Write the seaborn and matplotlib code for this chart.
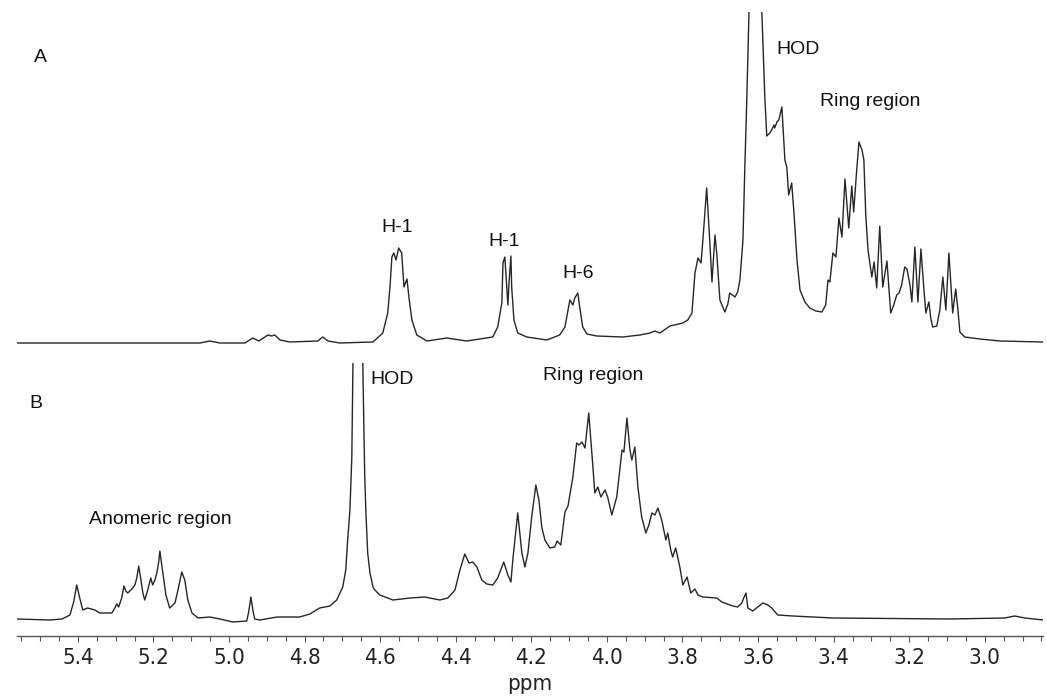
import numpy as np
import pandas as pd
import matplotlib
matplotlib.use("Agg")
import matplotlib.pyplot as plt
from matplotlib.ticker import MultipleLocator
import seaborn as sns

# ---------------- data ----------------
# Spectrum A (chemical shift in ppm, intensity in arbitrary units)
a_ppm = [5.561, 5.077, 5.051, 5.024, 4.958, 4.937, 4.921, 4.905, 4.897, 4.887, 4.879, 4.865,
         4.839, 4.765, 4.752, 4.738, 4.707, 4.619, 4.593, 4.580, 4.574, 4.569, 4.564, 4.558,
         4.551, 4.543, 4.537, 4.532, 4.529, 4.524, 4.516, 4.503, 4.476, 4.424, 4.371, 4.302,
         4.289, 4.278, 4.275, 4.270, 4.265, 4.262, 4.259, 4.254, 4.252, 4.246, 4.236, 4.212,
         4.159, 4.125, 4.111, 4.103, 4.098, 4.090, 4.085, 4.077, 4.072, 4.064, 4.053, 4.027,
         3.958, 3.913, 3.886, 3.873, 3.860, 3.833, 3.799, 3.786, 3.775, 3.767, 3.759, 3.751,
         3.746, 3.736, 3.728, 3.722, 3.714, 3.709, 3.701, 3.688, 3.680, 3.675, 3.661, 3.654,
         3.648, 3.640, 3.635, 3.630, 3.624, 3.609, 3.590, 3.582, 3.577, 3.569, 3.564, 3.558,
         3.556, 3.550, 3.545, 3.537, 3.529, 3.524, 3.519, 3.511, 3.505, 3.497, 3.489, 3.476,
         3.463, 3.447, 3.431, 3.421, 3.415, 3.410, 3.402, 3.394, 3.386, 3.378, 3.370, 3.360,
         3.352, 3.347, 3.339, 3.333, 3.325, 3.320, 3.315, 3.309, 3.299, 3.293, 3.286, 3.278,
         3.270, 3.259, 3.249, 3.241, 3.233, 3.227, 3.220, 3.212, 3.206, 3.198, 3.193, 3.185,
         3.177, 3.169, 3.161, 3.156, 3.148, 3.143, 3.138, 3.127, 3.119, 3.111, 3.103, 3.095,
         3.087, 3.085, 3.077, 3.071, 3.066, 3.053, 3.013, 2.960, 2.846]
a_int = [0, 0, 2, 0, 0, 5, 2, 6, 8, 7, 8, 3,
         1, 2, 6, 2, 0, 1, 10, 30, 56, 86, 90, 83,
         95, 90, 56, 61, 64, 46, 23, 8, 2, 5, 2, 6,
         16, 40, 80, 86, 56, 38, 60, 87, 56, 23, 10, 6,
         3, 8, 16, 33, 43, 38, 45, 50, 36, 16, 9, 7,
         6, 8, 10, 12, 10, 17, 20, 23, 30, 70, 85, 80,
         103, 155, 103, 61, 108, 88, 43, 31, 39, 50, 46, 51,
         63, 103, 176, 241, 331, 1500, 331, 245, 207, 210, 213, 218,
         215, 221, 223, 236, 183, 176, 148, 160, 130, 83, 53, 41,
         35, 32, 31, 38, 63, 61, 90, 86, 125, 106, 164, 115,
         157, 131, 173, 201, 193, 183, 128, 93, 66, 81, 55, 117,
         56, 82, 30, 38, 48, 50, 58, 76, 74, 58, 41, 96,
         41, 94, 53, 30, 41, 25, 16, 17, 33, 66, 33, 90,
         43, 30, 54, 33, 11, 6, 4, 2, 1]

# Spectrum B
b_ppm = [5.561, 5.474, 5.442, 5.421, 5.411, 5.403, 5.395, 5.387, 5.374, 5.355, 5.342, 5.310,
         5.302, 5.297, 5.292, 5.284, 5.278, 5.273, 5.268, 5.257, 5.249, 5.244, 5.239, 5.233,
         5.228, 5.223, 5.215, 5.207, 5.202, 5.196, 5.191, 5.186, 5.183, 5.178, 5.175, 5.167,
         5.157, 5.143, 5.135, 5.125, 5.117, 5.109, 5.098, 5.082, 5.051, 5.024, 4.990, 4.953,
         4.948, 4.942, 4.937, 4.932, 4.918, 4.873, 4.813, 4.786, 4.760, 4.733, 4.715, 4.699,
         4.691, 4.686, 4.680, 4.675, 4.672, 4.659, 4.646, 4.641, 4.638, 4.633, 4.627, 4.619,
         4.614, 4.601, 4.566, 4.521, 4.482, 4.442, 4.421, 4.402, 4.389, 4.376, 4.365, 4.355,
         4.344, 4.331, 4.318, 4.302, 4.289, 4.273, 4.262, 4.254, 4.249, 4.236, 4.225, 4.217,
         4.209, 4.199, 4.188, 4.180, 4.172, 4.164, 4.151, 4.138, 4.132, 4.122, 4.111, 4.103,
         4.090, 4.080, 4.074, 4.066, 4.058, 4.048, 4.037, 4.032, 4.024, 4.016, 4.005, 3.998,
         3.987, 3.974, 3.960, 3.955, 3.947, 3.939, 3.934, 3.926, 3.918, 3.908, 3.897, 3.889,
         3.881, 3.873, 3.865, 3.855, 3.844, 3.839, 3.831, 3.826, 3.818, 3.807, 3.799, 3.788,
         3.778, 3.767, 3.759, 3.746, 3.709, 3.696, 3.667, 3.654, 3.643, 3.638, 3.632, 3.627,
         3.614, 3.601, 3.587, 3.574, 3.564, 3.548, 3.508, 3.402, 3.093, 2.947, 2.921, 2.894,
         2.846]
b_int = [2, 1, 2, 6, 19, 36, 23, 11, 13, 11, 8, 8,
         13, 17, 14, 23, 35, 30, 28, 32, 36, 43, 55, 41,
         28, 21, 31, 43, 36, 41, 48, 59, 70, 56, 48, 26,
         13, 18, 31, 49, 41, 21, 8, 3, 4, 2, -1, 0,
         9, 24, 11, 2, 1, 4, 4, 7, 13, 15, 21, 34,
         51, 81, 111, 164, 258, 1500, 258, 148, 111, 68, 48, 34,
         31, 26, 21, 23, 24, 21, 23, 31, 51, 67, 58, 59,
         54, 41, 37, 36, 43, 59, 46, 39, 61, 108, 68, 54,
         68, 104, 136, 121, 93, 81, 73, 74, 80, 76, 109, 115,
         144, 178, 176, 179, 173, 208, 154, 128, 134, 124, 131, 124,
         106, 124, 171, 169, 203, 171, 161, 174, 134, 104, 88, 96,
         108, 106, 113, 101, 81, 88, 71, 64, 73, 54, 36, 44,
         28, 32, 26, 24, 23, 19, 15, 14, 18, 23, 28, 13,
         10, 14, 18, 16, 13, 6, 5, 3, 2, 3, 5, 3,
         1]

tick_values = [5.4, 5.2, 5.0, 4.8, 4.6, 4.4, 4.2, 4.0, 3.8, 3.6, 3.4, 3.2, 3.0]

# annotations: (text, ppm, intensity)
labels_a = [("A", 5.498, 285), ("HOD", 3.495, 293), ("Ring region", 3.302, 241),
            ("H-1", 4.556, 115), ("H-1", 4.273, 102), ("H-6", 4.077, 69)]
labels_b = [("B", 5.511, 217), ("HOD", 4.569, 241), ("Ring region", 4.037, 246),
            ("Anomeric region", 5.183, 101)]

df_a = pd.DataFrame({"ppm": a_ppm, "intensity": a_int})
df_b = pd.DataFrame({"ppm": b_ppm, "intensity": b_int})

# ---------------- drawing ----------------
sns.set_theme(style="white")
plt.rcParams["font.family"] = ["Liberation Sans", "DejaVu Sans"]

W, H = 1047, 697
fig = plt.figure(figsize=(W / 100, H / 100), dpi=100)
fig.patch.set_facecolor("white")
left, right = 17 / W, 1043 / W
axA = fig.add_axes([left, (H - 355) / H, right - left, (355 - 12) / H])
axB = fig.add_axes([left, (H - 636) / H, right - left, (636 - 363) / H])

line_kw = dict(color="#262626", linewidth=1.0, sort=False, estimator=None)
sns.lineplot(data=df_a, x="ppm", y="intensity", ax=axA, **line_kw)
sns.lineplot(data=df_b, x="ppm", y="intensity", ax=axB, **line_kw)

xlim = (5.561, 2.846)
for ax in (axA, axB):
    ax.set_xlim(*xlim)
    ax.set_facecolor("none")
    ax.set_ylabel("")
    ax.set_yticks([])
    for s in ("top", "left", "right"):
        ax.spines[s].set_visible(False)

axA.set_ylim(-12, 331)
axB.set_ylim(-15, 258)

axA.spines["bottom"].set_visible(False)
axA.set_xticks([])
axA.set_xlabel("")

tick_font = dict(family="DejaVu Sans", stretch="condensed")
axB.spines["bottom"].set_color("#555555")
axB.spines["bottom"].set_linewidth(1.0)
axB.set_xticks(tick_values)
axB.set_xticklabels([f"{v:.1f}" for v in tick_values])
axB.xaxis.set_minor_locator(MultipleLocator(0.05))
axB.tick_params(axis="x", which="major", direction="out", length=4, width=0.8,
                color="#555555", pad=5, labelsize=16, labelcolor="#222222", bottom=True)
axB.tick_params(axis="x", which="minor", direction="out", length=3.5, width=0.8,
                color="#555555", bottom=True)
for lab in axB.get_xticklabels():
    lab.set_family("DejaVu Sans")
    lab.set_stretch("condensed")
axB.set_xlabel("ppm", fontsize=16, color="#222222", labelpad=4, **tick_font)

for txt, x, y in labels_a:
    axA.text(x, y, txt, ha="center", va="center", fontsize=14, color="#111111")
for txt, x, y in labels_b:
    axB.text(x, y, txt, ha="center", va="center", fontsize=14, color="#111111")

fig.savefig("out.png", dpi=100, facecolor="white")
